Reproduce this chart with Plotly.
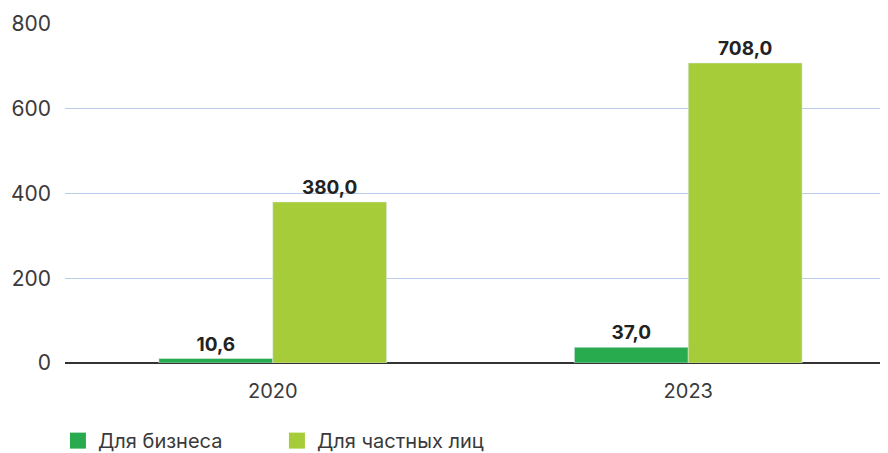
import plotly.graph_objects as go

years = ["2020", "2023"]
business = [10.6, 37.0]
private = [380.0, 708.0]
series_names = ["Для бизнеса", "Для частных лиц"]
colors = ["#27AB4E", "#A6CD39"]
y_ticks = [0, 200, 400, 600, 800]

def fmt(v):
    return f"{v:.1f}".replace(".", ",")

fig = go.Figure()
for vals, name, col in [(business, series_names[0], colors[0]), (private, series_names[1], colors[1])]:
    fig.add_trace(go.Bar(x=years, y=vals, name=name, marker_color=col, showlegend=False,
                         text=[fmt(v) for v in vals], textposition="outside",
                         textfont=dict(size=19, color="#222222", family="Inter", weight="bold"),
                         cliponaxis=False))
    # legend-only entry with a larger square symbol
    fig.add_trace(go.Scatter(x=[None], y=[None], mode="markers", name=name,
                             marker=dict(symbol="square", size=18, color=col)))

fig.update_layout(
    width=888, height=453,
    margin=dict(l=57, r=0, t=16, b=98),
    paper_bgcolor="white", plot_bgcolor="white",
    barmode="group", bargap=0.452, bargroupgap=0,
    font=dict(family="Inter", size=20, color="#3a3a3a"),
    xaxis=dict(type="category", range=[-0.5, 1.5], showgrid=False, showline=False,
               ticks="", ticklabelstandoff=14, automargin=False,
               tickfont=dict(size=20, color="#3a3a3a")),
    yaxis=dict(range=[0, 800], tickvals=y_ticks, showgrid=True, gridcolor="#B9CDEB",
               gridwidth=1.2, zeroline=True, zerolinecolor="#333333", zerolinewidth=1.5,
               ticklabelstandoff=13, automargin=False,
               tickfont=dict(size=21, color="#3a3a3a")),
    legend=dict(orientation="h", x=-0.0085, xanchor="left",
                yref="container", y=0.045, yanchor="middle",
                entrywidth=174, entrywidthmode="pixels", font=dict(size=20, color="#3a3a3a"),
                traceorder="normal"),
    showlegend=True,
)

fig.write_html("out.html")
